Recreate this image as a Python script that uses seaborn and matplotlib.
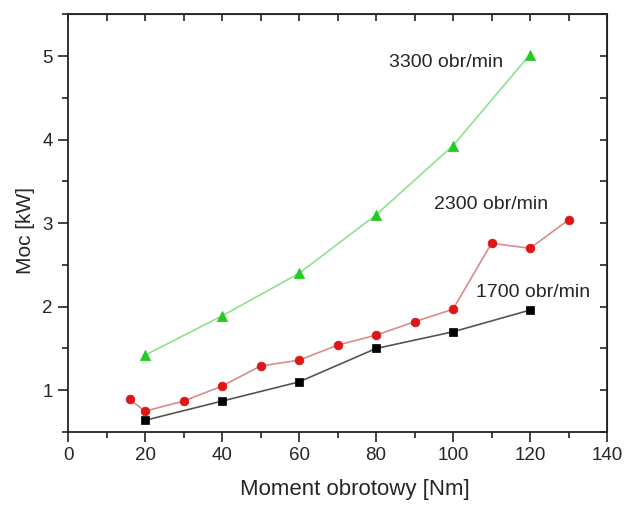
import matplotlib
matplotlib.use("Agg")
import matplotlib.pyplot as plt
from matplotlib.ticker import MultipleLocator
import seaborn as sns
import pandas as pd

# data
x_3300 = [20, 40, 60, 80, 100, 120]
y_3300 = [1.42, 1.89, 2.40, 3.10, 3.93, 5.02]
x_2300 = [16, 20, 30, 40, 50, 60, 70, 80, 90, 100, 110, 120, 130]
y_2300 = [0.89, 0.75, 0.87, 1.05, 1.29, 1.36, 1.54, 1.66, 1.82, 1.97, 2.76, 2.70, 3.04]
x_1700 = [20, 40, 60, 80, 100, 120]
y_1700 = [0.64, 0.87, 1.10, 1.50, 1.70, 1.96]
labels = ["3300 obr/min", "2300 obr/min", "1700 obr/min"]

sns.set_style("ticks")
plt.rcParams['font.family'] = ['Liberation Sans', 'DejaVu Sans']

fig = plt.figure(figsize=(6.31, 5.08), dpi=100)
ax = fig.add_axes([0.1078, 0.1496, 0.8542, 0.8219])

series = [
    (x_3300, y_3300, '#8fe08f', '#22cc22', '^', 55),
    (x_2300, y_2300, '#d98c8c', '#e01515', 'o', 40),
    (x_1700, y_1700, '#555555', '#000000', 's', 30),
]
for xs, ys, lc, mc, mk, ms in series:
    df = pd.DataFrame({'x': xs, 'y': ys})
    sns.lineplot(data=df, x='x', y='y', ax=ax, color=lc, lw=1.2, sort=False)
    sns.scatterplot(data=df, x='x', y='y', ax=ax, color=mc, marker=mk, s=ms,
                    edgecolor=mc, linewidth=0.5, zorder=3)

ax.set_xlim(0, 140)
ax.set_ylim(0.5, 5.5)
ax.xaxis.set_major_locator(MultipleLocator(20))
ax.xaxis.set_minor_locator(MultipleLocator(10))
ax.yaxis.set_major_locator(MultipleLocator(1))
ax.yaxis.set_minor_locator(MultipleLocator(0.5))
ax.set_yticks([1, 2, 3, 4, 5])
ax.tick_params(which='major', direction='out', length=7, width=1.2, labelsize=13.5, color='#222222', pad=4)
ax.tick_params(which='minor', direction='out', length=4, width=1.2, color='#222222')
ax.tick_params(which='both', top=False, right=False)
for s in ax.spines.values():
    s.set_linewidth(1.3)
    s.set_color('#222222')

# mirrored inward ticks on top/right
axt = ax.secondary_xaxis('top')
axt.xaxis.set_major_locator(MultipleLocator(10))
axt.tick_params(direction='in', length=5, width=1.2, labeltop=False, color='#222222')
axr = ax.secondary_yaxis('right')
axr.yaxis.set_major_locator(MultipleLocator(0.5))
axr.tick_params(direction='in', length=5, width=1.2, labelright=False, color='#222222')

ax.set_xlabel("Moment obrotowy [Nm]", fontsize=16)
ax.set_ylabel("Moc [kW]", fontsize=15)
ax.xaxis.set_label_coords(0.532, -0.113)
ax.yaxis.set_label_coords(-0.062, 0.483)

ax.text(83.5, 4.93, labels[0], fontsize=14, va='center', ha='left')
ax.text(95.0, 3.22, labels[1], fontsize=14, va='center', ha='left')
ax.text(106.0, 2.17, labels[2], fontsize=14, va='center', ha='left')

fig.savefig("out.png", dpi=100)
